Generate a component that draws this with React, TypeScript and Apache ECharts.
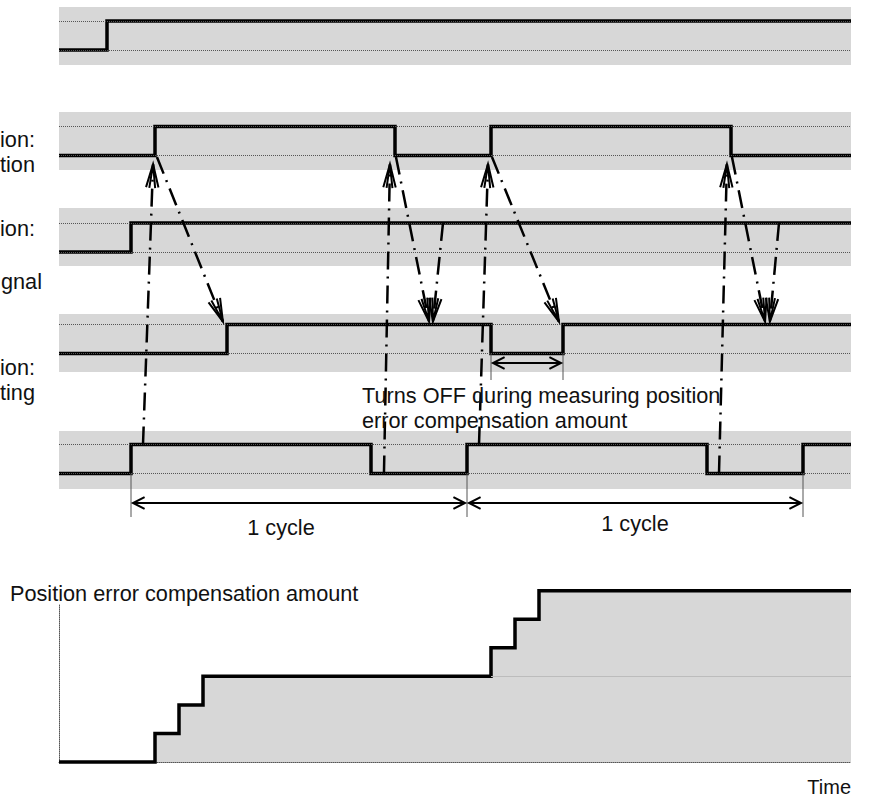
import React, { useEffect, useRef } from "react";
import * as echarts from "echarts";

// ---------------- data ----------------
const T_MAX = 33; // time units across the diagram

// signal rows: [time, level] change points (level 0 = OFF, 1 = ON)
const signalRow1 = [[0, 0], [2, 1], [33, 1]];
const signalRow2 = [[0, 0], [4, 1], [14, 0], [18, 1], [28, 0], [33, 0]];
const signalRow3 = [[0, 0], [3, 1], [33, 1]];
const signalRow4 = [[0, 0], [7, 1], [18, 0], [21, 1], [33, 1]];
const signalRow5 = [[0, 0], [3, 1], [13, 0], [17, 1], [27, 0], [31, 1], [33, 1]];

// position error compensation amount (step levels)
const compensation = [[0, 0], [4, 1], [5, 2], [6, 3], [18, 4], [19, 5], [20, 6], [33, 6]];
const previousLevelLine = [[18, 3], [33, 3]];

const cycleMarks = [3, 17, 31];
const measureSpan = [18, 21];

// dash-dot cause/effect arrows: [fromRow, fromT, fromLevel, toRow, toT, toLevel]
const causeArrows = [
  [4, 3.5, 1, 1, 3.92, -0.3],
  [1, 4.08, -0.05, 3, 6.83, 1.1],
  [4, 13.54, 0, 1, 13.79, -0.3],
  [1, 14.04, -0.05, 3, 15.42, 1.1],
  [2, 16.0, 1, 3, 15.58, 1.1],
  [4, 17.5, 1, 1, 17.875, -0.3],
  [1, 18.04, -0.05, 3, 20.83, 1.1],
  [4, 27.5, 0, 1, 27.83, -0.3],
  [1, 28.04, -0.05, 3, 29.42, 1.1],
  [2, 30.0, 1, 3, 29.62, 1.1],
];

const leftLabels = ["ion:", "tion", "ion:", "gnal", "ion:", "ting"];
const cycleLabels = ["1 cycle", "1 cycle"];
const noteLines = ["Turns OFF during measuring position", "error compensation amount"];
const yTitle = "Position error compensation amount";
const xTitle = "Time";

// ---------------- layout / style ----------------
const W = 888;
const H = 798;
const GRID_LEFT = 59;
const GRID_RIGHT = 37;
const ROW_TOPS = [7, 112, 208, 314, 431];
const ROW_HIGH_OFFSET = [14, 14.5, 15, 10.5, 13.5];
const BAND_H = 58;
const LEVEL_PX = 29;
const COMP_TOP = 605;
const COMP_H = 157;
const COMP_YMAX = 5.5;
const BAND_COLOR = "#d7d7d7";
const INK = "#111";
const FONT = "'Liberation Sans', Arial, sans-serif";
const FS = 21.7;

const LEFT_LABEL_POS = [[0, 139], [0, 164], [0, 228], [1, 281], [0, 367], [0, 392]];
const CYCLE_LABEL_POS = [[9.25, 527], [24, 523]]; // [t, y]
const CYCLE_ARROW_Y = 503;
const CYCLE_MARK_BOTTOM = 517;
const MEASURE_ARROW_Y = 363;
const MEASURE_MARK_BOTTOM = 380;
const NOTE_POS = [[362, 395], [362, 420]];

function headLines(tip: number[], from: number[], len: number, angles: number[]) {
  const dx = from[0] - tip[0];
  const dy = from[1] - tip[1];
  const d = Math.hypot(dx, dy) || 1;
  const ux = dx / d;
  const uy = dy / d;
  return angles.map((deg) => {
    const a = (deg * Math.PI) / 180;
    const rot = (s: number) => [
      tip[0] + (ux * Math.cos(s * a) - uy * Math.sin(s * a)) * len,
      tip[1] + (ux * Math.sin(s * a) + uy * Math.cos(s * a)) * len,
    ];
    return [rot(1), tip, rot(-1)];
  });
}

export default function App() {
  const ref = useRef<HTMLDivElement>(null);

  useEffect(() => {
    if (!ref.current) return;
    const chart = echarts.init(ref.current, null, { renderer: "svg" });
    const rows = [signalRow1, signalRow2, signalRow3, signalRow4, signalRow5];

    const grid: any[] = rows.map((_, i) => ({
      left: GRID_LEFT,
      right: GRID_RIGHT,
      top: ROW_TOPS[i],
      height: BAND_H,
      show: true,
      backgroundColor: BAND_COLOR,
      borderWidth: 0,
    }));
    grid.push({ left: GRID_LEFT, right: GRID_RIGHT, top: COMP_TOP, height: COMP_H, show: false });

    const xAxis: any[] = rows.map((_, i) => ({
      type: "value",
      gridIndex: i,
      min: 0,
      max: T_MAX,
      show: false,
    }));
    xAxis.push({
      type: "value",
      gridIndex: 5,
      min: 0,
      max: T_MAX,
      axisLine: { show: true, lineStyle: { color: "#555", width: 1, type: [1, 1] } },
      axisTick: { show: false },
      axisLabel: { show: false },
      splitLine: { show: false },
    });

    const yAxis: any[] = rows.map((_, i) => {
      const yMax = 1 + ROW_HIGH_OFFSET[i] / LEVEL_PX;
      return {
        type: "value",
        gridIndex: i,
        min: yMax - BAND_H / LEVEL_PX,
        max: yMax,
        show: false,
      };
    });
    yAxis.push({
      type: "value",
      gridIndex: 5,
      min: 0,
      max: COMP_YMAX,
      axisLine: { show: true, lineStyle: { color: "#555", width: 1, type: [1, 1] } },
      axisTick: { show: false },
      axisLabel: { show: false },
      splitLine: { show: false },
    });

    const series: any[] = [];
    rows.forEach((data, i) => {
      series.push({
        type: "line",
        xAxisIndex: i,
        yAxisIndex: i,
        data: [],
        z: 1,
        silent: true,
        markLine: {
          silent: true,
          symbol: "none",
          label: { show: false },
          lineStyle: { color: "#555", width: 1, type: [1, 1] },
          data: [{ yAxis: 0 }, { yAxis: 1 }],
        },
      });
      series.push({
        type: "line",
        xAxisIndex: i,
        yAxisIndex: i,
        step: "end",
        symbol: "none",
        z: 3,
        data,
        lineStyle: { color: "#000", width: 3.5, cap: "butt", join: "miter" },
      });
    });
    series.push({
      type: "line",
      xAxisIndex: 5,
      yAxisIndex: 5,
      step: "end",
      symbol: "none",
      clip: false,
      z: 3,
      data: compensation,
      areaStyle: { color: BAND_COLOR, opacity: 1 },
      lineStyle: { color: "#000", width: 3.5, cap: "butt", join: "miter" },
      markLine: {
        silent: true,
        symbol: "none",
        label: { show: false },
        lineStyle: { color: "#bcbcbc", width: 1, type: "solid" },
        data: [[{ coord: previousLevelLine[0] }, { coord: previousLevelLine[1] }]],
      },
    });

    chart.setOption({
      animation: false,
      grid,
      xAxis,
      yAxis,
      series,
    });

    const px = (row: number, t: number, lvl: number) =>
      chart.convertToPixel({ xAxisIndex: row, yAxisIndex: row }, [t, lvl]) as number[];

    const graphic: any[] = [];
    const textStyle = (text: string, align: string) => ({
      text,
      fill: INK,
      fontSize: FS,
      fontFamily: FONT,
      align,
      verticalAlign: "middle",
    });

    // left labels
    leftLabels.forEach((txt, i) => {
      graphic.push({
        type: "text",
        x: LEFT_LABEL_POS[i][0],
        y: LEFT_LABEL_POS[i][1],
        z: 50,
        style: textStyle(txt, "left"),
      });
    });

    // note text
    noteLines.forEach((txt, i) => {
      graphic.push({
        type: "text",
        x: NOTE_POS[i][0],
        y: NOTE_POS[i][1],
        z: 50,
        style: textStyle(txt, "left"),
      });
    });

    // cycle marks and arrows
    cycleMarks.forEach((t) => {
      const p = px(4, t, 0);
      graphic.push({
        type: "line",
        z: 40,
        shape: { x1: p[0], y1: p[1], x2: p[0], y2: CYCLE_MARK_BOTTOM },
        style: { stroke: "#555", lineWidth: 1 },
      });
    });
    const drawDoubleArrow = (x1: number, x2: number, y: number) => {
      graphic.push({
        type: "line",
        z: 40,
        shape: { x1, y1: y, x2, y2: y },
        style: { stroke: "#000", lineWidth: 2 },
      });
      [...headLines([x1, y], [x2, y], 13, [27]), ...headLines([x2, y], [x1, y], 13, [27])].forEach((pts) =>
        graphic.push({
          type: "polyline",
          z: 40,
          shape: { points: pts },
          style: { stroke: "#000", lineWidth: 2, fill: null },
        })
      );
    };
    for (let i = 0; i < cycleMarks.length - 1; i++) {
      const a = px(4, cycleMarks[i], 0)[0];
      const b = px(4, cycleMarks[i + 1], 0)[0];
      drawDoubleArrow(a + 2, b - 2, CYCLE_ARROW_Y);
    }
    cycleLabels.forEach((txt, i) => {
      const p = px(4, CYCLE_LABEL_POS[i][0], 0);
      graphic.push({
        type: "text",
        x: p[0],
        y: CYCLE_LABEL_POS[i][1],
        z: 50,
        style: textStyle(txt, "center"),
      });
    });

    // measuring span
    measureSpan.forEach((t) => {
      const p = px(3, t, 0);
      graphic.push({
        type: "line",
        z: 40,
        shape: { x1: p[0], y1: p[1], x2: p[0], y2: MEASURE_MARK_BOTTOM },
        style: { stroke: "#555", lineWidth: 1 },
      });
    });
    {
      const a = px(3, measureSpan[0], 0)[0];
      const b = px(3, measureSpan[1], 0)[0];
      drawDoubleArrow(a + 2, b - 2, MEASURE_ARROW_Y);
    }

    // dash-dot cause arrows
    causeArrows.forEach((ar) => {
      const from = px(ar[0], ar[1], ar[2]);
      const to = px(ar[3], ar[4], ar[5]);
      graphic.push({
        type: "line",
        z: 45,
        shape: { x1: from[0], y1: from[1], x2: to[0], y2: to[1] },
        style: { stroke: "#000", lineWidth: 2.5, lineDash: [18, 7, 2, 7] },
      });
      headLines(to, from, 24, [15, 7]).forEach((pts) =>
        graphic.push({
          type: "polyline",
          z: 45,
          shape: { points: pts },
          style: { stroke: "#000", lineWidth: 2, fill: null },
        })
      );
    });

    // bottom chart titles
    graphic.push({
      type: "text",
      x: 10,
      y: 593,
      z: 50,
      style: textStyle(yTitle, "left"),
    });
    graphic.push({
      type: "text",
      x: W - GRID_RIGHT,
      y: 787,
      z: 50,
      style: { ...textStyle(xTitle, "right"), fontSize: 20 },
    });

    chart.setOption({ graphic });

    return () => chart.dispose();
  }, []);

  return (
    <div
      ref={ref}
      style={{ position: "fixed", left: 0, top: 0, width: W, height: H, background: "#fff" }}
    />
  );
}
